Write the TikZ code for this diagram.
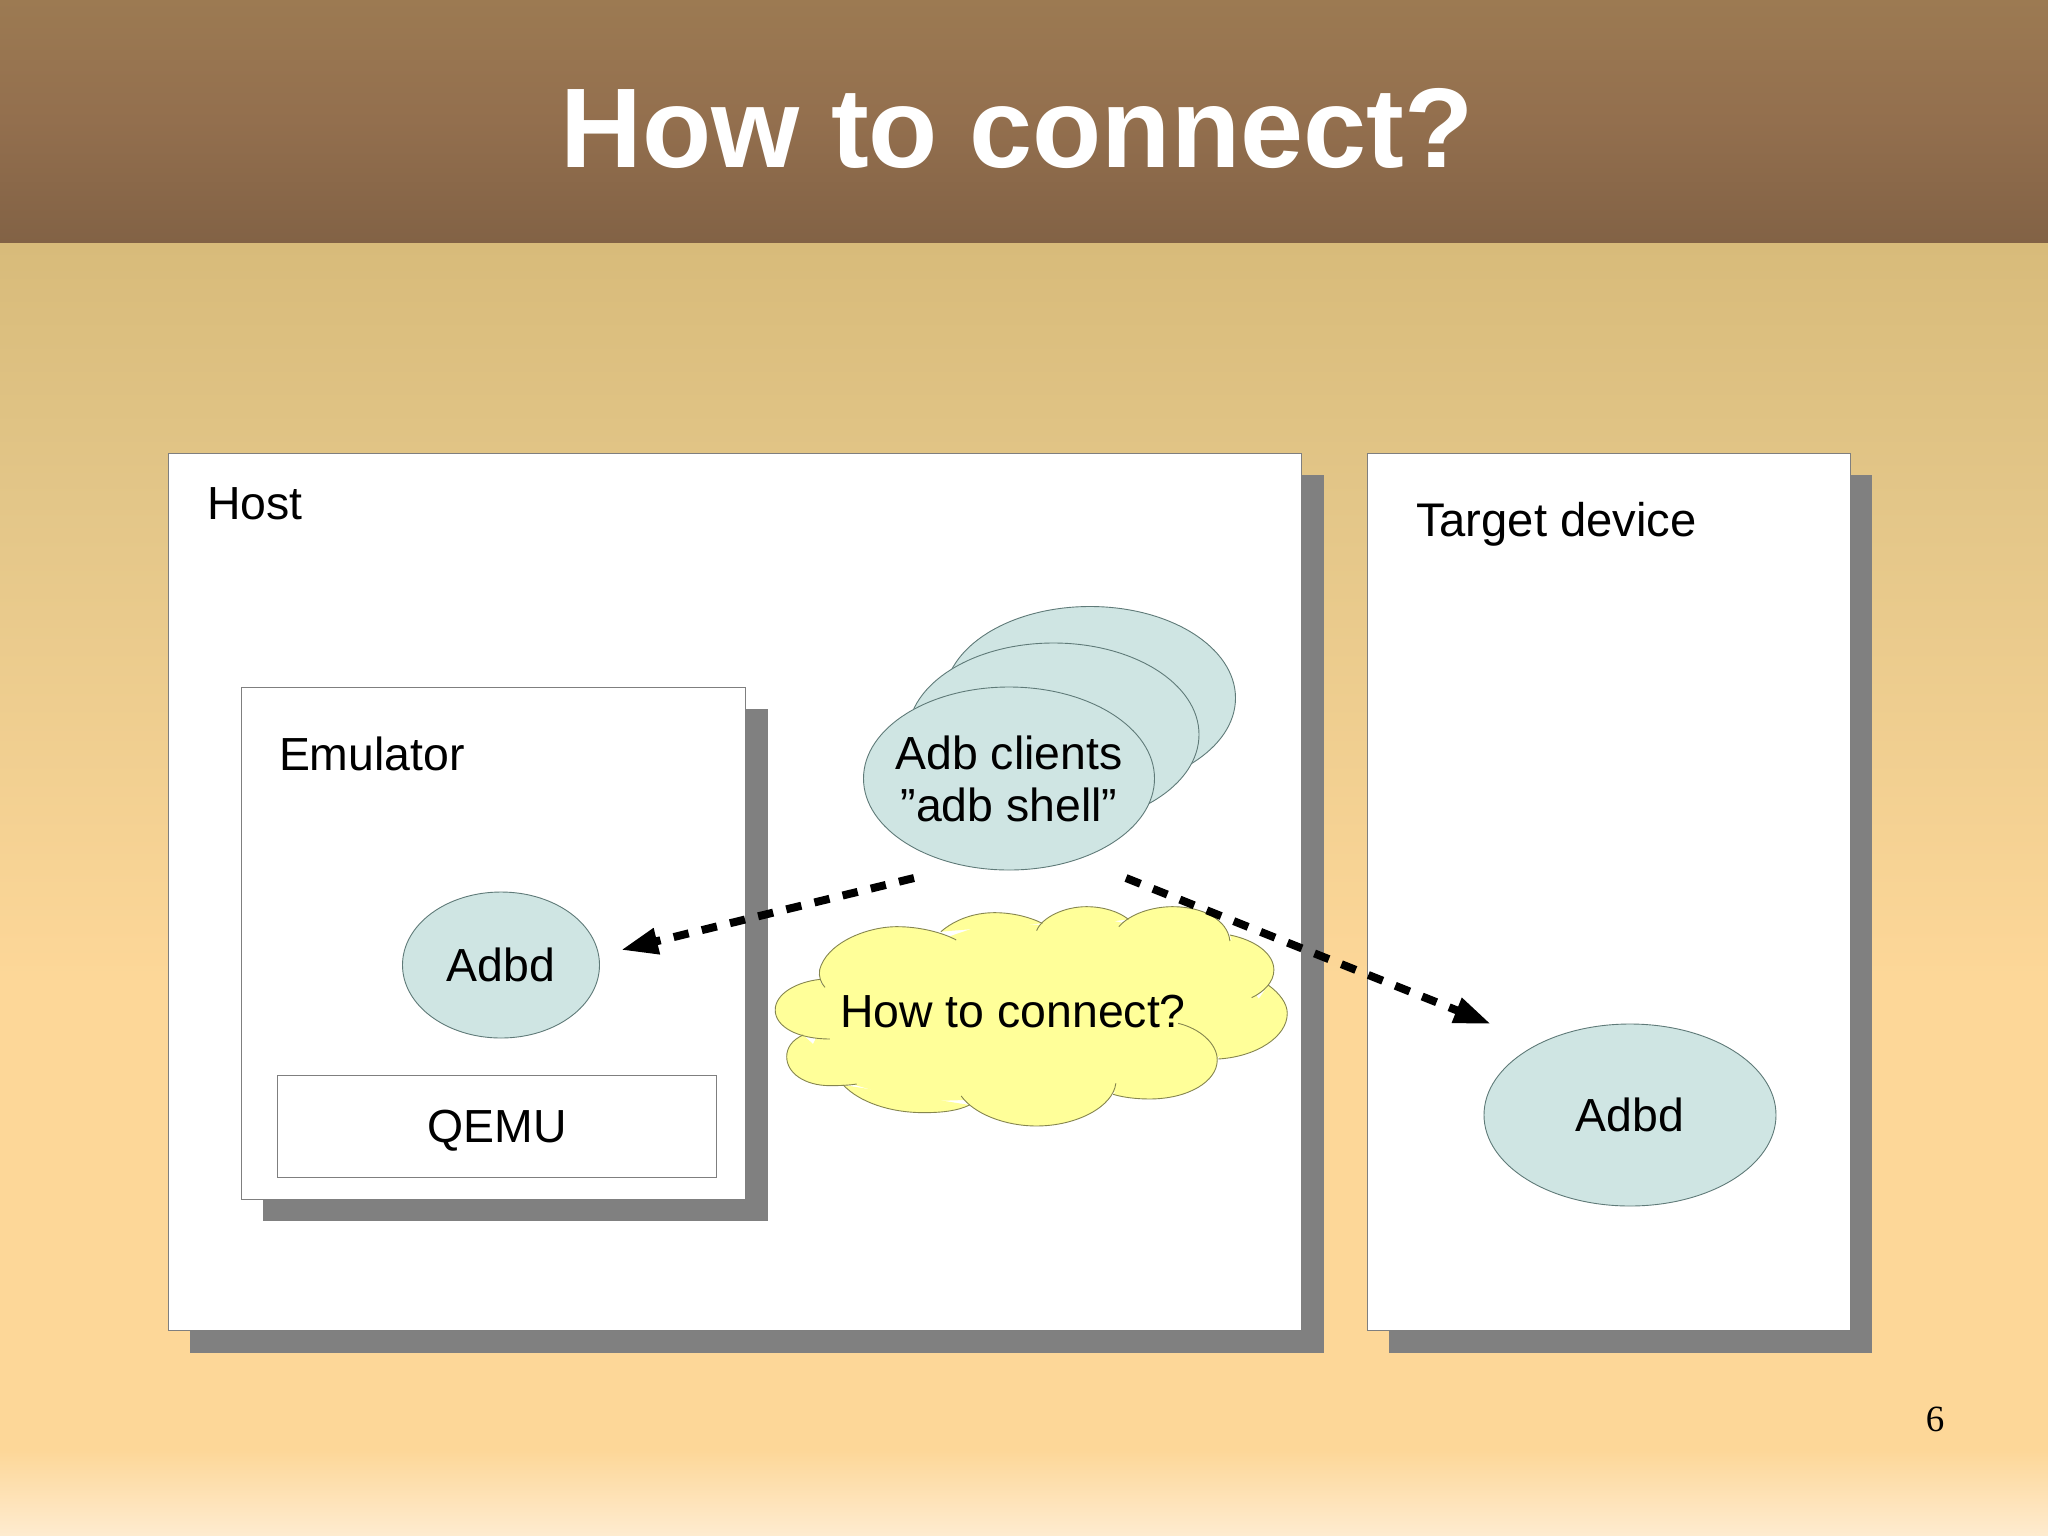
\documentclass[tikz,border=0pt]{standalone}
\usepackage{fontspec}
\setmainfont{Liberation Sans}
\newfontfamily\numfont{Liberation Serif}
\usetikzlibrary{arrows.meta,shapes.geometric}
\definecolor{hdA}{HTML}{9C7A52}
\definecolor{hdB}{HTML}{936F4E}
\definecolor{hdC}{HTML}{826245}
\definecolor{bgA}{HTML}{D8BB7A}
\definecolor{bgB}{HTML}{E3C688}
\definecolor{bgC}{HTML}{FDD798}
\definecolor{bgD}{HTML}{FEEBCF}
\definecolor{shadowgrey}{HTML}{808080}
\definecolor{boxline}{HTML}{7F7F7F}
\definecolor{bubble}{HTML}{CFE5E3}
\definecolor{bubbleline}{HTML}{5F7A78}
\definecolor{cloudfill}{HTML}{FFFF99}
\definecolor{cloudline}{HTML}{85854F}
\tikzset{
  box/.style={draw=boxline,line width=1pt,fill=white,inner sep=0pt,outer sep=0pt},
  shadow/.style={fill=shadowgrey,draw=none},
  bub/.style={ellipse,draw=bubbleline,line width=0.9pt,fill=bubble,inner sep=0pt,outer sep=0pt},
  lbl/.style={font=\fontsize{46.4}{52}\selectfont,text=black,inner sep=0pt,outer sep=0pt},
  lobe/.style={draw=cloudline,line width=0.9pt},
  flow/.style={line width=8pt,dash pattern=on 15.5pt off 13.5pt,
    -{Triangle[length=37pt,width=25pt,fill=black]}},
}
\newcommand{\drawlobes}[1]{%
\path[#1] (222,382) .. controls (212,370) and (205,350) .. (208,330) .. controls (225,250) and (330,200) .. (410,200) .. controls (470,200) and (530,218) .. (565,240);
\path[#1] (525,215) .. controls (560,180) and (610,158) .. (665,158) .. controls (710,158) and (755,170) .. (790,190);
\path[#1] (775,212) .. controls (790,170) and (850,140) .. (905,140) .. controls (950,140) and (990,155) .. (1015,178);
\path[#1] (990,200) .. controls (1020,160) and (1080,140) .. (1130,140) .. controls (1210,140) and (1275,180) .. (1280,243);
\path[#1] (1280,225) .. controls (1345,240) and (1395,280) .. (1395,330) .. controls (1395,365) and (1370,395) .. (1337,413);
\path[#1] (1380,375) .. controls (1410,400) and (1430,430) .. (1430,460) .. controls (1430,530) and (1350,590) .. (1250,597);
\path[#1] (1145,490) .. controls (1200,505) and (1247,550) .. (1247,600) .. controls (1247,665) and (1170,717) .. (1070,717) .. controls (1035,717) and (1000,712) .. (975,703);
\path[#1] (982,670) .. controls (975,740) and (880,798) .. (775,798) .. controls (690,798) and (610,760) .. (578,708);
\path[#1] (600,735) .. controls (570,752) and (530,758) .. (480,758) .. controls (390,758) and (310,725) .. (270,675);
\path[#1] (305,672) .. controls (285,676) and (260,677) .. (235,677) .. controls (170,677) and (122,640) .. (122,590) .. controls (122,565) and (135,540) .. (165,525);
\path[#1] (235,537) .. controls (150,537) and (92,500) .. (92,450) .. controls (92,400) and (150,365) .. (210,358);
}
\begin{document}
\begin{tikzpicture}[x=1pt,y=-1pt]
\useasboundingbox (0,0) rectangle (2048,1535);
% background bands
\shade[top color=hdA,bottom color=hdB] (0,0) rectangle (2048,120);
\shade[top color=hdB,bottom color=hdC] (0,120) rectangle (2048,243);
\shade[top color=bgA,bottom color=bgB] (0,243) rectangle (2048,500);
\shade[top color=bgB,bottom color=bgC] (0,500) rectangle (2048,980);
\fill[bgC] (0,980) rectangle (2048,1450);
\shade[top color=bgC,bottom color=bgD] (0,1450) rectangle (2048,1535);
\node[font=\bfseries\fontsize{113.3}{113}\selectfont,text=white,anchor=base,inner sep=0pt] (title) at (1017,167) {How to connect?};
% host
\fill[shadow] (189.5,475) rectangle (1323.5,1352.5);
\node[box,minimum width=1133pt,minimum height=877pt,anchor=north west] (host) at (168,453) {};
\node[lbl,anchor=base west] (hostl) at (207,519) {Host};
% target
\fill[shadow] (1388.5,475) rectangle (1872,1352.5);
\node[box,minimum width=483pt,minimum height=877pt,anchor=north west] (target) at (1367,453) {};
\node[lbl,anchor=base west,font=\fontsize{47.2}{52}\selectfont] (targetl) at (1416,536) {Target device};
% emulator
\fill[shadow] (262.5,709) rectangle (768,1221);
\node[box,minimum width=504pt,minimum height=512pt,anchor=north west] (emu) at (241.5,687) {};
\node[lbl,anchor=base west] (emul) at (279,770) {Emulator};
\node[box,minimum width=439pt,minimum height=102pt,anchor=north west] (qemu) at (277.5,1075) {};
\node[lbl] at ([yshift=-4.5pt]qemu.center) (qemul) {QEMU};
\node[bub,minimum width=197pt,minimum height=146pt] (adbdA) at (501,965) {};
\node[lbl] at (adbdA.center) (adbdAl) {Adbd};
% clients
\node[bub,minimum width=291pt,minimum height=183pt] (cliC) at (1090,698) {};
\node[bub,minimum width=291pt,minimum height=183pt] (cliB) at (1053.5,734.5) {};
\node[bub,minimum width=291pt,minimum height=183pt] (cliA) at (1009,778.5) {};
\node[lbl,align=center] at (cliA.center) (cliAl) {Adb clients\\”adb shell”};
% target adbd
\node[bub,minimum width=292pt,minimum height=182pt] (adbdB) at (1630,1115) {};
\node[lbl] at (adbdB.center) (adbdBl) {Adbd};
% cloud
\begin{scope}[shift={(740,860)},x=0.3827pt,y=-0.3333pt]
\fill[cloudfill] (215,370) -- (390,260) -- (545,230) -- (660,185) -- (785,195) -- (905,165) -- (1005,190) -- (1130,170) -- (1278,235) -- (1365,320) -- (1345,400) -- (1390,470) -- (1240,600) -- (1170,640) -- (980,695) -- (775,760) -- (590,720) -- (450,725) -- (285,670) -- (170,600) -- (200,531) -- (140,450) -- cycle;
\drawlobes{fill=cloudfill}
\drawlobes{lobe}
\end{scope}
\node[lbl] (cloudl) at (1013,1012) {How to connect?};
% connectors
\coordinate (fromL) at (914,878);
\coordinate (toL) at (621,950);
\coordinate (fromR) at (1126,878);
\coordinate (toR) at (1491,1024);
\draw[flow] (fromL) -- (toL);
\draw[flow] (fromR) -- (toR);
\node[font=\numfont\fontsize{37}{37}\selectfont,text=black,inner sep=0pt] (pageno) at (1935,1419) {6};
\end{tikzpicture}
\end{document}
